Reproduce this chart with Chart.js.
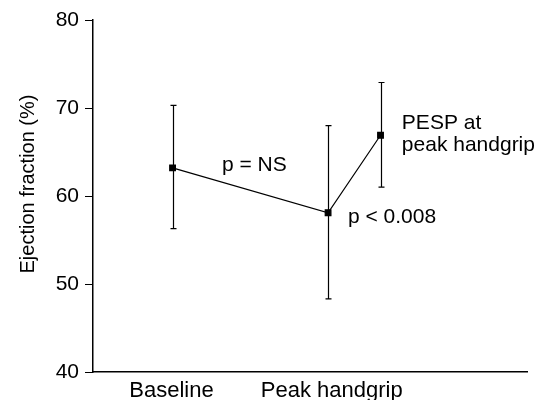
<!DOCTYPE html>
<html>
<head>
<meta charset="utf-8">
<script src="https://cdn.jsdelivr.net/npm/chart.js@4/dist/chart.umd.min.js"></script>
<style>
html,body{margin:0;padding:0;background:#fff;}
#wrap{width:541px;height:400px;}
</style>
</head>
<body>
<div id="wrap"><canvas id="c" width="541" height="400"></canvas></div>
<script>
// Data
const pointNames = ["Baseline", "Peak handgrip", "PESP at peak handgrip"];
const xPositions = [2.2, 6.5, 7.95];
const meanValues = [63.2, 58.1, 66.9];
const upperValues = [70.3, 68.0, 72.9];
const lowerValues = [56.3, 48.3, 61.0];
const xTickPositions = [2.17, 6.6];
const xTickLabels = ["Baseline", "Peak handgrip"];
const yTicks = [40, 50, 60, 70, 80];
const annotations = [
  {text: ["p = NS"], x: 4.46, y: 63.5, align: "center"},
  {text: ["p < 0.008"], x: 7.05, y: 57.6, align: "left"},
  {text: ["PESP at", "peak handgrip"], x: 8.54, y: 68.3, align: "left"}
];
const yTitle = "Ejection fraction (%)";

const INK = "#000";
const FONT = "Liberation Sans, Arial, Helvetica, sans-serif";

const errorBars = {
  id: "errorBars",
  afterDatasetsDraw(chart) {
    const {ctx, scales: {x, y}} = chart;
    ctx.save();
    ctx.strokeStyle = INK;
    ctx.lineWidth = 1.2;
    for (let i = 0; i < xPositions.length; i++) {
      const px = Math.round(x.getPixelForValue(xPositions[i])) + 0.5;
      const yu = y.getPixelForValue(upperValues[i]);
      const yl = y.getPixelForValue(lowerValues[i]);
      ctx.beginPath();
      ctx.moveTo(px, yu); ctx.lineTo(px, yl);
      ctx.moveTo(px - 3, yu); ctx.lineTo(px + 3, yu);
      ctx.moveTo(px - 3, yl); ctx.lineTo(px + 3, yl);
      ctx.stroke();
    }
    ctx.restore();
  }
};

const textLabels = {
  id: "textLabels",
  afterDraw(chart) {
    const {ctx, scales: {x, y}} = chart;
    ctx.save();
    ctx.fillStyle = INK;
    ctx.font = "21px " + FONT;
    ctx.textBaseline = "middle";
    annotations.forEach(a => {
      ctx.textAlign = a.align;
      const px = x.getPixelForValue(a.x);
      const py = y.getPixelForValue(a.y);
      a.text.forEach((line, k) => ctx.fillText(line, px, py + k * 22));
    });
    // y-axis title
    ctx.translate(28, 184);
    ctx.rotate(-Math.PI / 2);
    ctx.textAlign = "center";
    ctx.font = "20px " + FONT;
    ctx.fillText(yTitle, 0, 0);
    ctx.restore();
  }
};

new Chart(document.getElementById("c"), {
  type: "line",
  data: {
    datasets: [{
      label: "Ejection fraction",
      data: xPositions.map((v, i) => ({x: v, y: meanValues[i]})),
      borderColor: INK,
      borderWidth: 1.2,
      backgroundColor: INK,
      pointStyle: "rect",
      pointRadius: 4,
      pointBackgroundColor: INK,
      pointBorderColor: INK,
      tension: 0
    }]
  },
  options: {
    responsive: false,
    animation: false,
    events: [],
    layout: {padding: {top: 20, right: 14, left: 0, bottom: 0}},
    plugins: {legend: {display: false}, tooltip: {enabled: false}},
    scales: {
      x: {
        type: "linear",
        min: 0, max: 12,
        afterFit(s) { s.height = 28; },
        afterBuildTicks(s) { s.ticks = xTickPositions.map(v => ({value: v})); },
        grid: {display: false, drawTicks: false},
        border: {display: true, color: INK, width: 1.5},
        ticks: {
          autoSkip: false, maxRotation: 0, minRotation: 0,
          padding: 6,
          color: INK,
          font: {family: FONT, size: 22},
          callback(v) { const i = xTickPositions.indexOf(v); return i >= 0 ? xTickLabels[i] : ""; }
        }
      },
      y: {
        min: 40, max: 80,
        afterFit(s) { s.width = 93; },
        afterBuildTicks(s) { s.ticks = yTicks.map(v => ({value: v})); },
        grid: {drawOnChartArea: false, drawTicks: true, tickLength: 8, color: INK, tickWidth: 1},
        border: {display: true, color: INK, width: 1.5},
        ticks: {
          padding: 6,
          color: INK,
          font: {family: FONT, size: 21},
          callback(v) { return String(v); }
        }
      }
    }
  },
  plugins: [errorBars, textLabels]
});
</script>
</body>
</html>
